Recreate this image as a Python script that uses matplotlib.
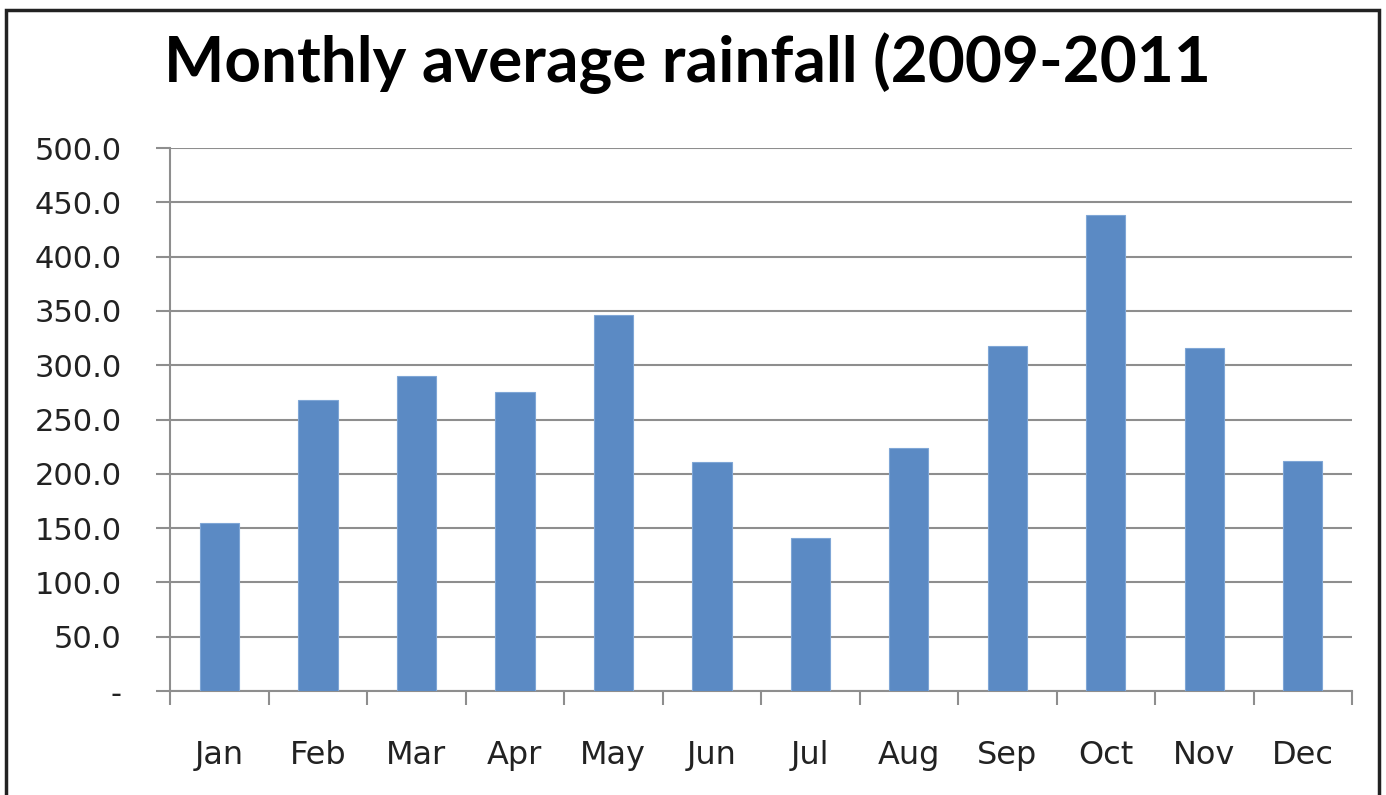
import matplotlib.pyplot as plt
from matplotlib.patches import Rectangle
import numpy as np

months = ["Jan", "Feb", "Mar", "Apr", "May", "Jun",
          "Jul", "Aug", "Sep", "Oct", "Nov", "Dec"]
rainfall = [155, 268, 290, 275, 346, 211, 141, 224, 318, 438, 316, 212]
y_ticks = [0, 50, 100, 150, 200, 250, 300, 350, 400, 450, 500]
y_labels = ["-"] + [f"{v:.1f}" for v in y_ticks[1:]]

BAR_COLOR = "#5B8AC4"
GRID_COLOR = "#8E8E8E"

fig = plt.figure(figsize=(13.86, 7.95), dpi=100)
ax = fig.add_axes([0.1227, 0.1308, 0.8528, 0.683])

x = np.arange(len(months))
ax.bar(x, rainfall, width=0.4, color=BAR_COLOR, edgecolor="#7FA6D6",
       linewidth=0.8, zorder=3)

ax.set_xlim(-0.5, len(months) - 0.5)
ax.set_ylim(0, 500)

# horizontal gridlines, ticks sticking out to the left
ax.set_yticks(y_ticks)
ax.set_yticklabels(y_labels, fontsize=22, color="#222222", family="DejaVu Sans")
ax.yaxis.grid(True, color=GRID_COLOR, linewidth=1.5, zorder=0)
ax.tick_params(axis="y", length=10, width=1.5, color=GRID_COLOR, pad=25)

# category labels centered, tick marks on the boundaries
ax.set_xticks(x)
ax.set_xticklabels(months, fontsize=23, color="#222222", family="DejaVu Sans")
ax.set_xticks(np.arange(-0.5, len(months)), minor=True)
ax.tick_params(axis="x", which="major", length=0, pad=35)
ax.tick_params(axis="x", which="minor", length=10, width=1.5, color=GRID_COLOR)

for side in ["top", "right"]:
    ax.spines[side].set_visible(False)
ax.spines["left"].set_color(GRID_COLOR)
ax.spines["left"].set_linewidth(1.5)
ax.spines["bottom"].set_color(GRID_COLOR)
ax.spines["bottom"].set_linewidth(1.5)

fig.text(0.496, 0.92, "Monthly average rainfall (2009-2011",
         ha="center", va="center", fontsize=46, fontweight="bold",
         family="Lato", color="black")

# outer chart border
fig.patches.append(Rectangle((5.5 / 1386, -0.05), (1373) / 1386, 1.05 - 9.5 / 795,
                             transform=fig.transFigure, fill=False,
                             edgecolor="#222222", linewidth=2.5, clip_on=False))

fig.savefig("out.png", dpi=100)
